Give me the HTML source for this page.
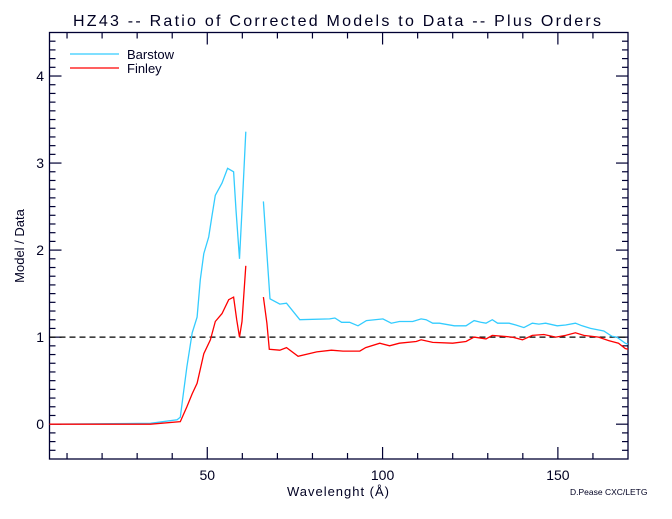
<!DOCTYPE html>
<html><head><meta charset="utf-8"><style>
body{margin:0;background:#fff;}
svg text{font-family:"Liberation Sans",sans-serif;fill:#000022;}
</style></head><body>
<svg id="chart" width="672" height="514" viewBox="0 0 672 514" xmlns="http://www.w3.org/2000/svg">
<rect width="672" height="514" fill="#fff"/>
<text x="73" y="26" font-size="16" textLength="528" lengthAdjust="spacing">HZ43 -- Ratio of Corrected Models to Data -- Plus Orders</text>
<text x="338" y="496" font-size="13" text-anchor="middle" textLength="102" lengthAdjust="spacing">Wavelenght (Å)</text>
<text x="24" y="246" font-size="13" text-anchor="middle" transform="rotate(-90 24 246)">Model / Data</text>
<text x="570" y="495" font-size="8.5">D.Pease CXC/LETG</text>
<g id="axes"></g>
<g id="series"></g>
<g>
<line x1="70" y1="54" x2="119" y2="54" stroke="#33ccff" stroke-width="1.2"/>
<text x="127" y="59" font-size="13">Barstow</text>
<line x1="70" y1="68" x2="119" y2="68" stroke="#ff0000" stroke-width="1.2"/>
<text x="127" y="73" font-size="13">Finley</text>
</g>
</svg>
<script>
const xTicks=[50,100,150];
const yTicks=[0,1,2,3,4];
const barstowX=[5,33.8,41.4,42.3,43.3,44.2,45.7,47.1,48.0,49.0,50.4,51.3,52.3,54.2,55.8,57.5,58.2,59.2,59.9,61.0,null,66.0,67.0,67.9,70.7,72.6,76.4,84.9,86.4,88.3,90.6,93.0,95.4,100.1,102.5,104.8,108.6,111.0,112.4,114.3,116.2,120.5,123.8,126.1,128,129.5,131.3,132.8,136.1,138,140.3,142.7,144.6,146.5,149.8,152.2,155,156.9,159.3,163.1,165.4,166.8,169.2,170];
const barstowY=[0,0.01,0.05,0.08,0.39,0.66,1.05,1.23,1.66,1.96,2.15,2.38,2.63,2.77,2.94,2.90,2.46,1.90,2.46,3.36,null,2.56,1.96,1.44,1.38,1.39,1.20,1.21,1.22,1.17,1.17,1.13,1.19,1.21,1.16,1.18,1.18,1.21,1.20,1.16,1.16,1.13,1.13,1.19,1.17,1.16,1.20,1.16,1.16,1.14,1.11,1.16,1.15,1.16,1.13,1.14,1.16,1.13,1.10,1.07,1.01,1.00,0.93,0.92];
const finleyX=[5,33.8,42.3,44.2,45.7,47.1,49.0,50.9,52.3,54.2,56.1,57.5,58.4,59.2,59.9,61.0,null,66.0,67.0,67.7,70.7,72.6,75.9,81.2,85.4,88.7,93.5,95.2,99.2,102,104.8,109.6,111,114.3,120,123.8,126.1,129.5,131.3,137,139.9,142.7,146,149.4,152.2,155,157.4,161.6,164.5,167.3,169.2,170];
const finleyY=[0,0,0.03,0.2,0.35,0.47,0.81,0.97,1.18,1.27,1.43,1.46,1.20,1.0,1.18,1.82,null,1.46,1.16,0.86,0.85,0.88,0.78,0.83,0.85,0.84,0.84,0.88,0.93,0.90,0.93,0.95,0.97,0.94,0.93,0.95,1.00,0.98,1.02,1.00,0.97,1.02,1.03,1.00,1.02,1.05,1.02,1.00,0.96,0.93,0.87,0.86];
const xMin=5,xMax=170,yMin=-0.4,yMax=4.5;
const L=49.5,R=628,T=32.5,B=459;
const sx=v=>L+(v-xMin)/(xMax-xMin)*(R-L);
const sy=v=>B-(v-yMin)/(yMax-yMin)*(B-T);
const NS="http://www.w3.org/2000/svg";
const axes=document.getElementById('axes');
const ser=document.getElementById('series');
const AX="#000033";
function mk(tag,attrs,parent){const e=document.createElementNS(NS,tag);for(const k in attrs)e.setAttribute(k,attrs[k]);parent.appendChild(e);return e;}
const frame=mk('rect',{x:L,y:T,width:R-L,height:B-T,fill:'none',stroke:AX,'stroke-width':1.3},axes);


for(let v=10;v<xMax;v+=10){const big=v%50===0,len=big?12:6,x=sx(v);
 const t1=mk('line',{x1:x,y1:B,x2:x,y2:B-len,stroke:AX,'stroke-width':1.2},axes);
 
 
 const t2=mk('line',{x1:x,y1:T,x2:x,y2:T+len,stroke:AX,'stroke-width':1.2},axes);
 
 }
for(let i=-3;i<=44;i++){const v=i/10,big=i%10===0,len=big?12:6,y=sy(v);
 const t1=mk('line',{x1:L,y1:y,x2:L+len,y2:y,stroke:AX,'stroke-width':1.2},axes);
 
 
 const t2=mk('line',{x1:R,y1:y,x2:R-len,y2:y,stroke:AX,'stroke-width':1.2},axes);
 
 }
xTicks.forEach(v=>{const t=mk('text',{x:sx(v),y:480,'font-size':14,'text-anchor':'middle'},axes);t.textContent=v;
 
 });
yTicks.forEach(v=>{const t=mk('text',{x:44,y:sy(v)+5,'font-size':14,'text-anchor':'end'},axes);t.textContent=v;
 
 });
const ref=mk('line',{x1:L,y1:sy(1),x2:R,y2:sy(1),stroke:'#000',"stroke-width":1.3,"stroke-dasharray":"6,4"},ser);


function pathD(xs,ys){let d='',pen=false;for(let i=0;i<xs.length;i++){if(xs[i]===null||ys[i]===null){pen=false;continue;}d+=(pen?'L':'M')+sx(xs[i]).toFixed(1)+','+sy(ys[i]).toFixed(1);pen=true;}return d;}
const pb=mk('path',{d:pathD(barstowX,barstowY),fill:'none',stroke:'#33ccff','stroke-width':1.3},ser);


const pf=mk('path',{d:pathD(finleyX,finleyY),fill:'none',stroke:'#ff0000','stroke-width':1.3},ser);


</script>
</body></html>
